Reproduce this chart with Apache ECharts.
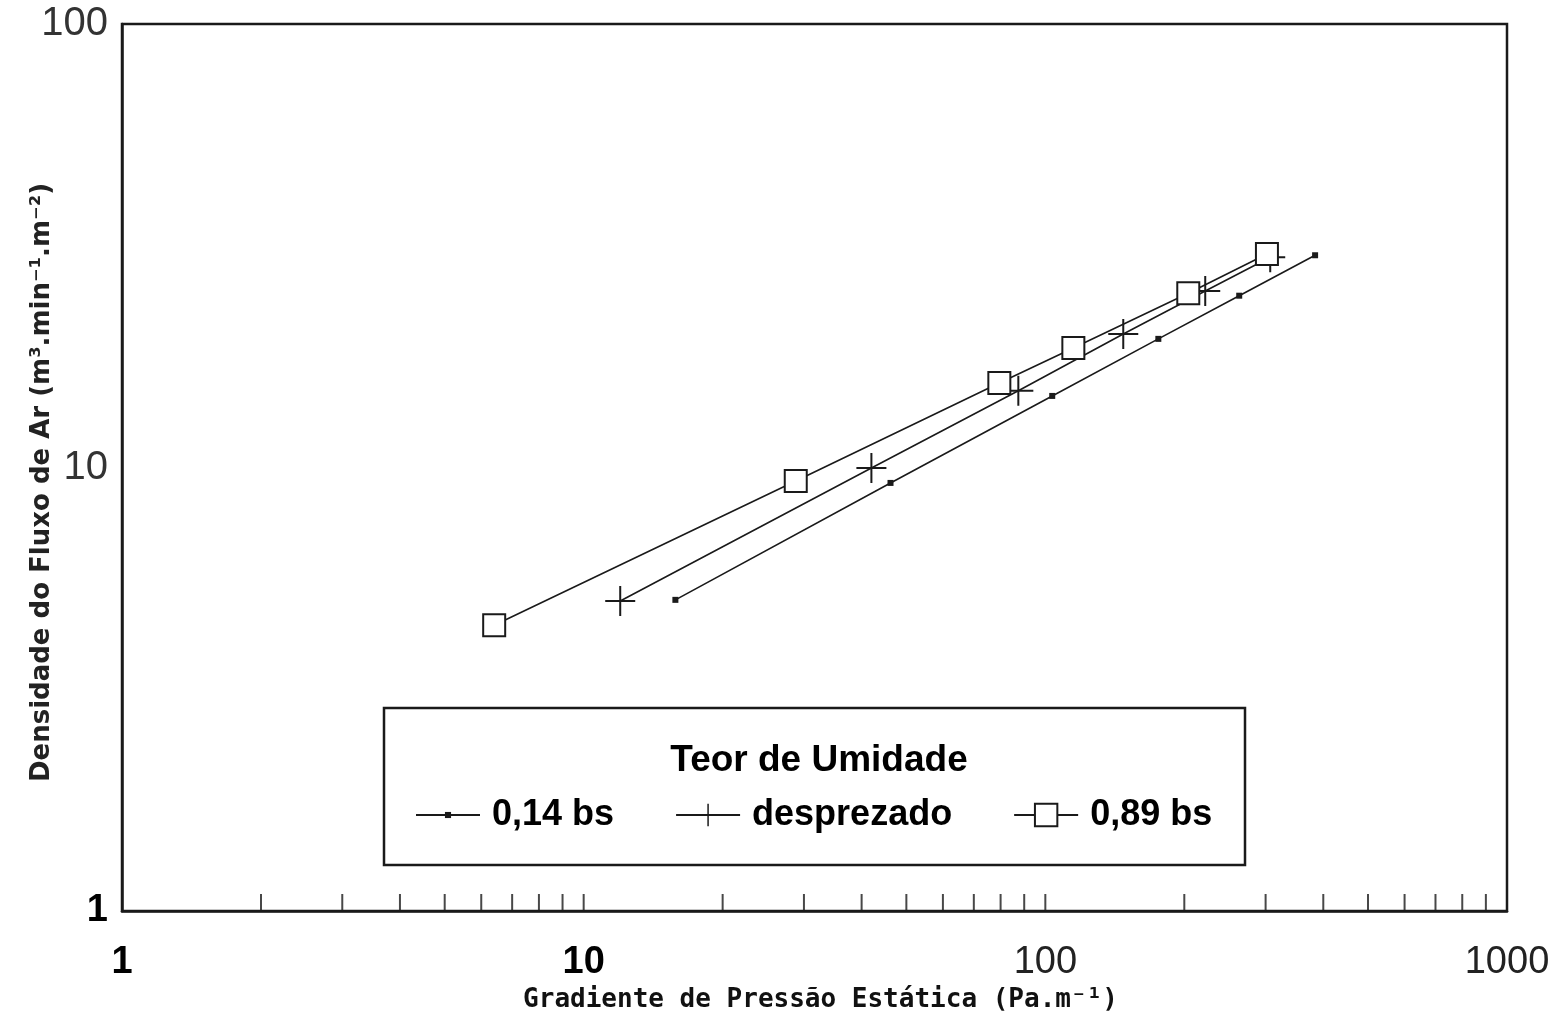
<!DOCTYPE html>
<html>
<head>
<meta charset="utf-8">
<script src="https://cdn.jsdelivr.net/npm/echarts@6/dist/echarts.min.js"></script>
<style>
  html, body { margin: 0; background: #fff; }
  #chart { width: 1559px; height: 1011px; }
</style>
</head>
<body>
<div id="chart"></div>
<script>
// series names (legend)
const seriesNames = ['0,14 bs', 'desprezado', '0,89 bs']

// 0,14 bs
const lowX = [15.8, 46.2, 103.5, 175.7, 263, 384]
const lowY = [5.03, 9.23, 14.5, 19.5, 24.4, 30.1]
// desprezado
const midX = [12.0, 42.0, 87.4, 147.5, 222, 307]
const midY = [5.0, 9.97, 14.9, 20.0, 25.0, 29.8]
// 0,89 bs
const highX = [6.4, 28.8, 79.5, 115, 204, 302]
const highY = [4.41, 9.32, 15.5, 18.6, 24.7, 30.3]

// tick marks drawn inside the x axis
const xTicks = [2, 3, 4, 5, 6, 7, 8, 9, 10, 20, 30, 40, 50, 60, 70, 80, 90, 100, 200, 300, 400, 500, 600, 700, 800, 900]

const pairs = (xs, ys) => xs.map((x, i) => [x, ys[i]])
const ink = '#1a1a1a'
// small dot inside a larger empty box so the legend icon stays small
const dot = 'path://M-11,-11L-11,-11 M11,11L11,11 M-3,-3L3,-3L3,3L-3,3Z'
const plus = 'path://M-1,-15L1,-15L1,15L-1,15Z M-15,-1L15,-1L15,1L-15,1Z'

const chart = echarts.init(document.getElementById('chart'), null, { renderer: 'canvas' })

chart.setOption({
  backgroundColor: '#fff',
  animation: false,
  grid: {
    left: 122, right: 52, top: 24, bottom: 100,
    outerBoundsMode: 'none', containLabel: false,
    show: true, borderColor: ink, borderWidth: 2.5, backgroundColor: 'transparent'
  },
  title: {
    text: 'Teor de Umidade',
    left: 819, top: 742, padding: 0, textAlign: 'center',
    textStyle: { fontFamily: 'Liberation Sans', fontSize: 37, fontWeight: 'bold', color: '#000' }
  },
  legend: {
    data: seriesNames,
    left: 415, top: 797, padding: 0,
    itemWidth: 64, itemHeight: 28, itemGap: 61,
    textStyle: { fontFamily: 'Liberation Sans', fontSize: 36, fontWeight: 'bold', color: '#000', padding: [0, 0, 0, 7] }
  },
  graphic: [{
    type: 'rect', z: 0,
    shape: { x: 384, y: 708, width: 861, height: 157 },
    style: { fill: '#fff', stroke: ink, lineWidth: 2.5 }
  }],
  xAxis: {
    type: 'log', logBase: 10, min: 1, max: 1000,
    name: 'Gradiente de Pressão Estática (Pa.m⁻¹)',
    nameLocation: 'middle', nameGap: 76, nameMoveOverlap: false,
    nameTextStyle: { fontFamily: 'DejaVu Sans Mono', fontSize: 26, fontWeight: 'bold', color: '#111', padding: [0, 0, 0, 12] },
    axisLine: { lineStyle: { color: ink, width: 2.5 } },
    axisTick: { show: false },
    splitLine: { show: false },
    axisLabel: {
      margin: 33,
      formatter: v => (v < 50 ? '{b|' + v + '}' : '{n|' + v + '}'),
      rich: {
        b: { fontFamily: 'Liberation Sans', fontSize: 38, fontWeight: 'bold', color: '#000' },
        n: { fontFamily: 'Liberation Sans', fontSize: 38, color: '#222' }
      }
    }
  },
  yAxis: {
    type: 'log', logBase: 10, min: 1, max: 100,
    name: 'Densidade do Fluxo de Ar (m³.min⁻¹.m⁻²)',
    nameLocation: 'middle', nameRotate: 90, nameGap: 67, nameMoveOverlap: false,
    nameTextStyle: { fontFamily: 'DejaVu Sans', fontSize: 26, fontWeight: 'bold', color: '#222', padding: [0, 30, 0, 0] },
    axisLine: { lineStyle: { color: ink, width: 2.5 } },
    axisTick: { show: false },
    splitLine: { show: false },
    axisLabel: {
      margin: 14,
      formatter: v => (v === 1 ? '{b|1}' : '{n|' + v + '}'),
      rich: {
        b: { fontFamily: 'Liberation Sans', fontSize: 38, fontWeight: 'bold', color: '#000' },
        n: { fontFamily: 'Liberation Sans', fontSize: 40, color: '#333' }
      }
    }
  },
  series: [
    {
      name: seriesNames[0], type: 'line', data: pairs(lowX, lowY),
      symbol: dot, symbolSize: 22,
      lineStyle: { color: ink, width: 1.6 },
      itemStyle: { color: ink }
    },
    {
      name: seriesNames[1], type: 'line', data: pairs(midX, midY),
      symbol: plus, symbolSize: 30,
      lineStyle: { color: ink, width: 1.6 },
      itemStyle: { color: ink }
    },
    {
      name: seriesNames[2], type: 'line', data: pairs(highX, highY),
      symbol: 'emptyRect', symbolSize: 22,
      lineStyle: { color: ink, width: 1.6 },
      itemStyle: { color: ink, borderColor: ink, borderWidth: 1.8 }
    },
    {
      name: 'ticks', type: 'scatter', silent: true, clip: false,
      data: xTicks.map(v => [v, 1]),
      symbol: 'rect', symbolSize: [2, 17], symbolOffset: [0, '-50%'],
      itemStyle: { color: ink }
    }
  ]
})
</script>
</body>
</html>
